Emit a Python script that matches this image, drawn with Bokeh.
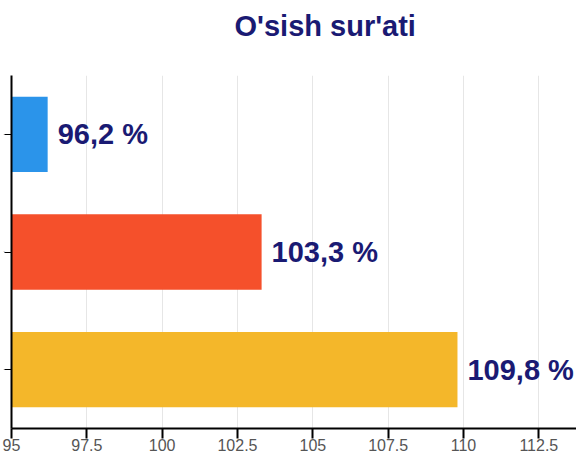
from bokeh.plotting import figure
from bokeh.models import ColumnDataSource, FixedTicker, Range1d, FactorRange, LinearAxis
from bokeh.embed import file_html
from bokeh.resources import INLINE
from bokeh.core.properties import value

# ---- data ----
title_text = "O'sish sur'ati"
rows = ["r1", "r2", "r3"]
values = [96.2, 103.3, 109.8]
value_labels = ["96,2 %", "103,3 %", "109,8 %"]
colors = ["#2b94ea", "#f5502b", "#f4b72a"]
x_ticks = [95, 97.5, 100, 102.5, 105, 107.5, 110, 112.5]
x_tick_labels = ["95", "97.5", "100", "102.5", "105", "107.5", "110", "112.5"]
x_min = 95
x_max = 113.75

NAVY = "#1a1a73"
FONT = "Liberation Sans"

src = ColumnDataSource(dict(
    row=rows, value=values, label=value_labels, color=colors,
    base=[x_min] * len(rows),
))

p = figure(
    width=576, height=453,
    y_range=FactorRange(factors=list(reversed(rows))),
    x_range=Range1d(x_min, x_max),
    output_backend="svg", toolbar_location=None,
    title=title_text,
    min_border_left=0, min_border_right=0, min_border_top=75, min_border_bottom=0,
)
p.outline_line_color = None
p.background_fill_color = "white"
p.border_fill_color = "white"

p.hbar(y="row", left="base", right="value", height=0.64, fill_color="color",
       line_color=None, source=src)
p.text(x="value", y="row", text="label", source=src, x_offset=10,
       text_baseline="middle", text_align="left",
       text_font=value(FONT), text_font_style="bold", text_font_size="29px",
       text_color=NAVY)

# title
p.title.text_font = FONT
p.title.text_font_size = "29px"
p.title.text_font_style = "bold"
p.title.text_color = NAVY
p.title.align = "left"
p.title.offset = 223
p.title.vertical_align = "top"
p.title.standoff = 14

# grids
p.ygrid.grid_line_color = None
p.xgrid.grid_line_color = "#e6e6e6"
p.xgrid.grid_line_width = 1
p.xgrid.ticker = FixedTicker(ticks=x_ticks)

# x axis (bottom)
xa = p.below[0]
xa.ticker = FixedTicker(ticks=x_ticks)
xa.major_label_overrides = {t: l for t, l in zip(x_ticks, x_tick_labels)}
xa.axis_line_color = "black"
xa.axis_line_width = 2
xa.major_tick_line_color = "black"
xa.major_tick_line_width = 2
xa.major_tick_out = 10
xa.major_tick_in = 0
xa.minor_tick_line_color = None
xa.major_label_text_font = FONT
xa.major_label_text_font_size = "16px"
xa.major_label_text_color = "#555555"
xa.major_label_text_line_height = 1.0
xa.major_label_standoff = 0
xa.axis_label_standoff = 0

# y axis
ya = p.left[0]
ya.axis_line_color = "black"
ya.axis_line_width = 2
ya.major_tick_line_color = "black"
ya.major_tick_line_width = 1
ya.major_tick_out = 7
ya.major_tick_in = 0
ya.major_label_overrides = {r: "" for r in rows}
ya.major_label_standoff = 0
ya.major_label_text_font_size = "1px"
ya.axis_label_standoff = 0

# blank (white-on-white) spacer axis between the title and the plot area
spacer = LinearAxis(ticker=FixedTicker(ticks=[x_ticks[0]]), axis_line_color=None,
                    major_tick_line_color="white", minor_tick_line_color=None,
                    major_tick_out=25, major_tick_in=0,
                    major_label_overrides={x_ticks[0]: ""},
                    major_label_standoff=0, axis_label_standoff=0)
p.add_layout(spacer, "above")

open("out.html", "w").write(file_html(p, INLINE))
